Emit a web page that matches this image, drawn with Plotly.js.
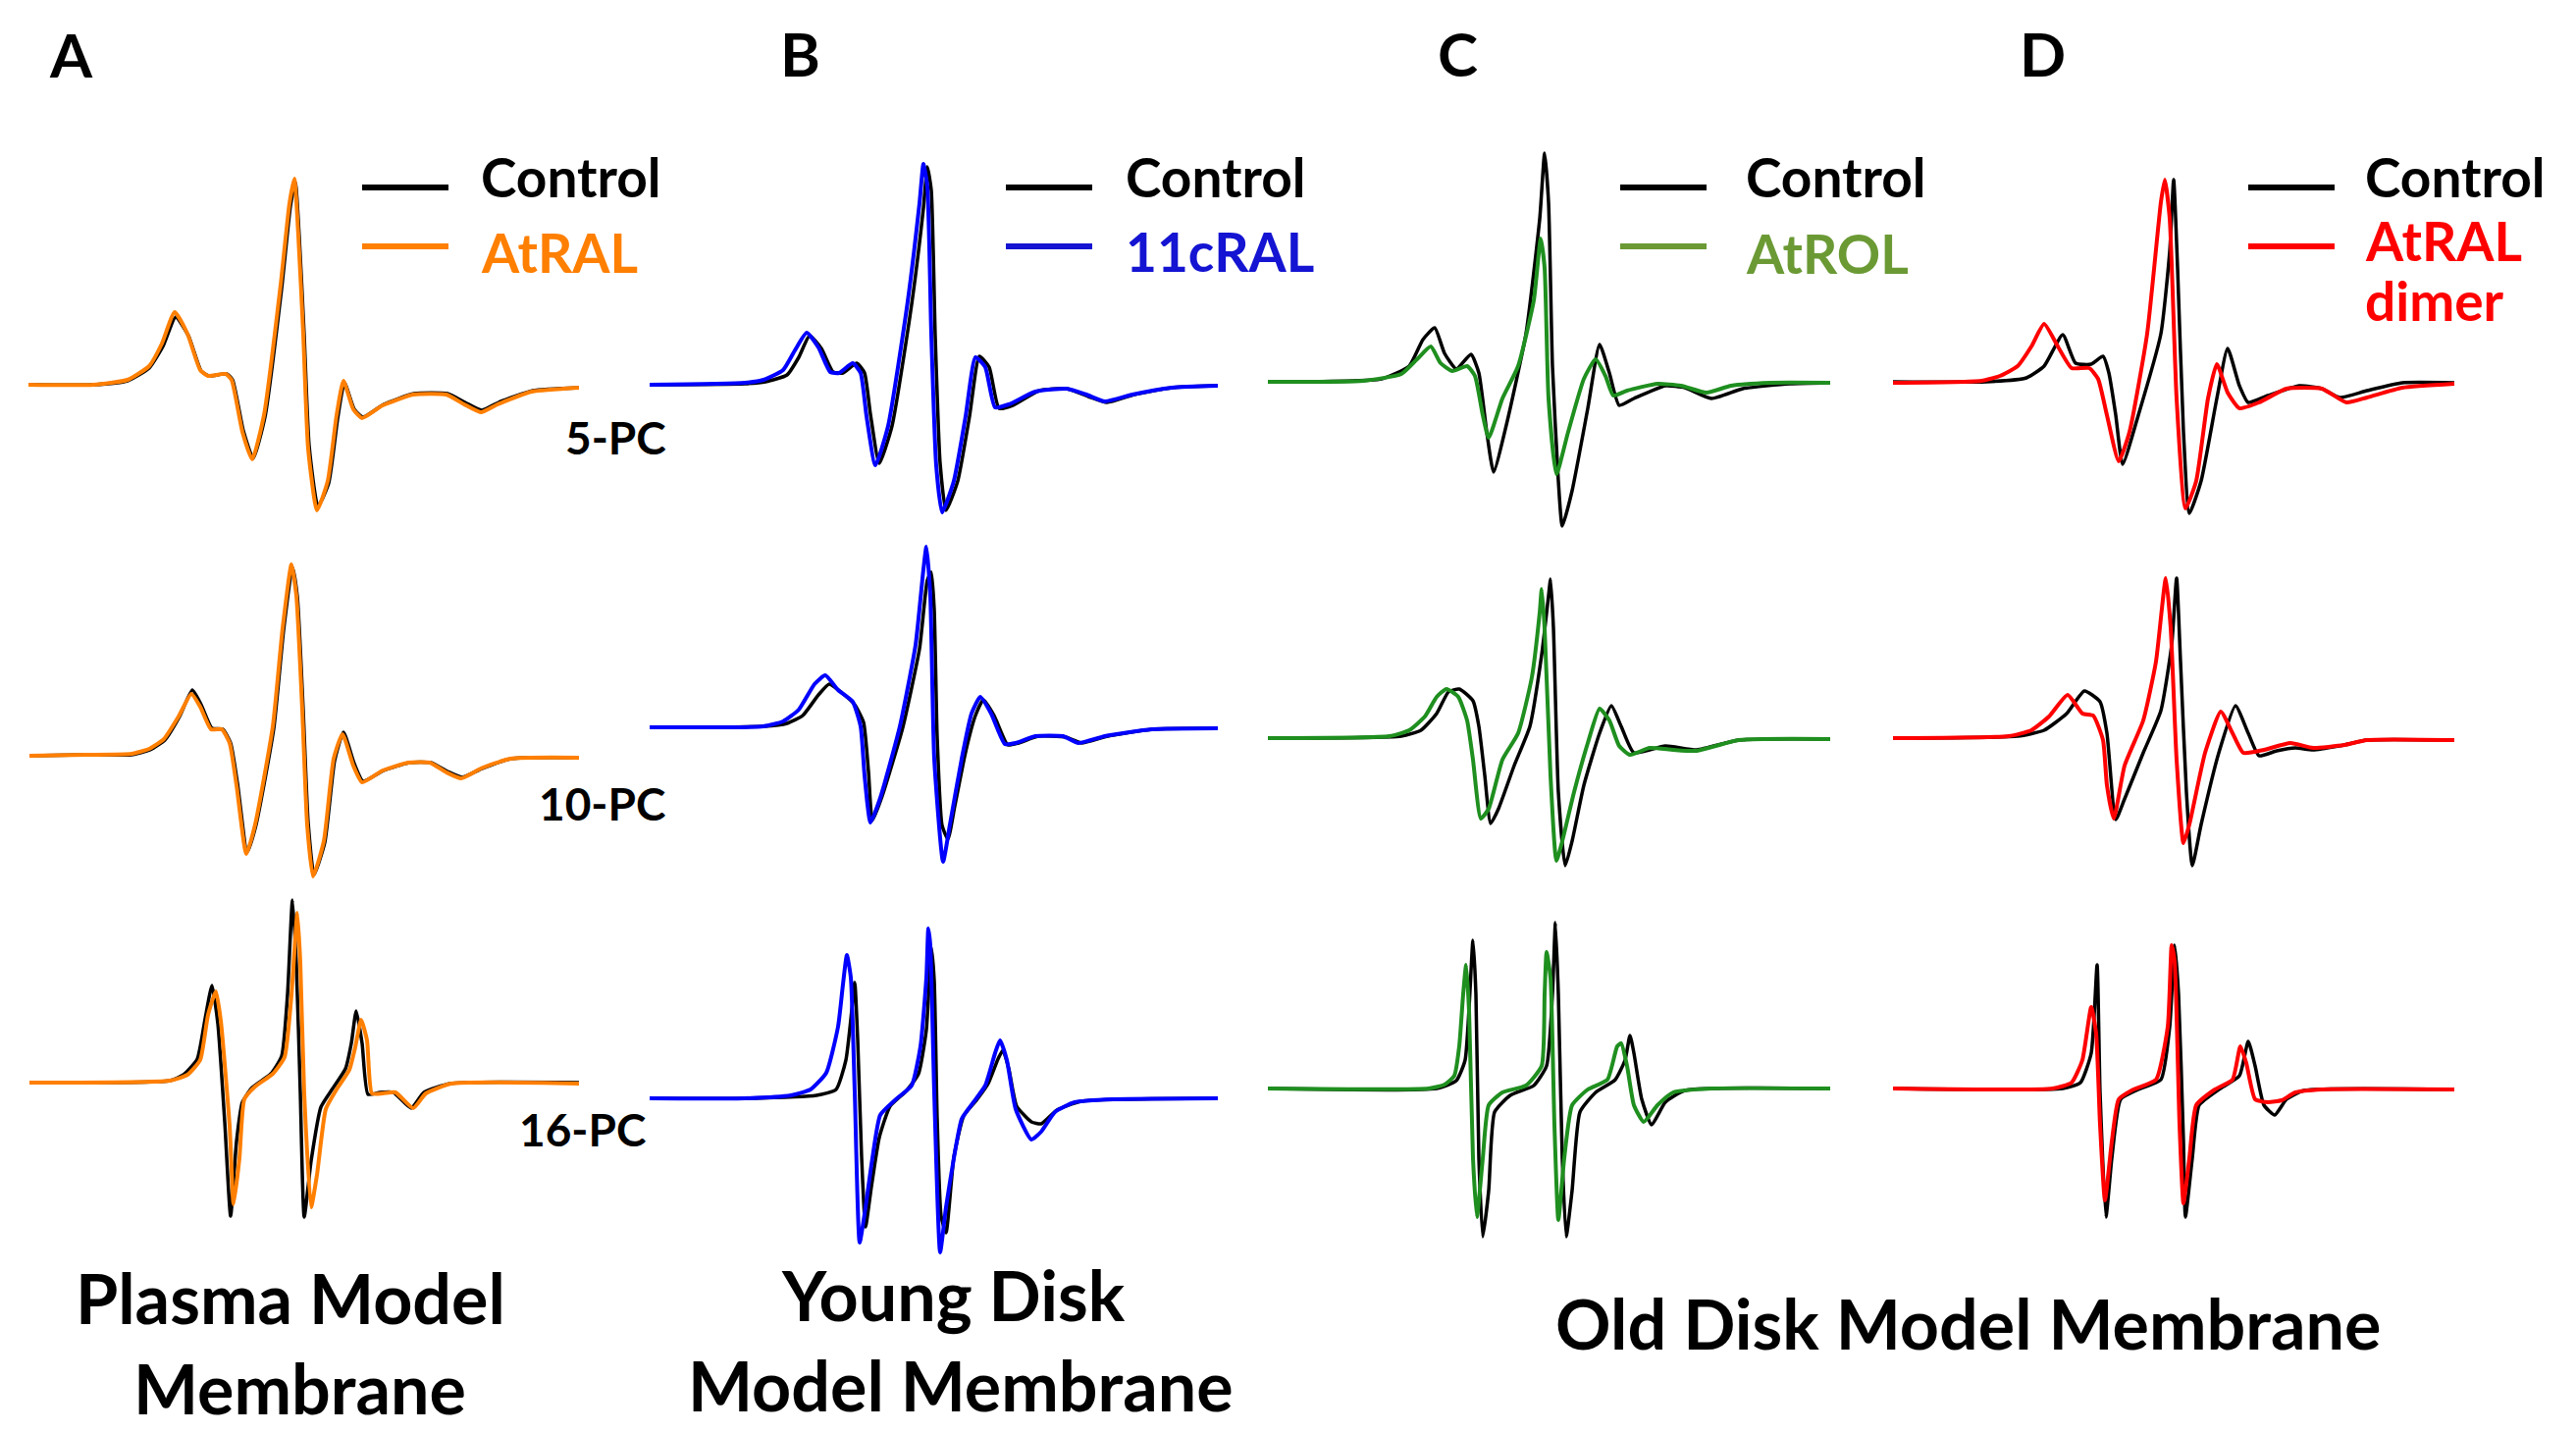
<!DOCTYPE html>
<html>
<head>
<meta charset="utf-8">
<script src="https://cdn.plot.ly/plotly-3.0.1.min.js"></script>
<style>
  html, body { margin: 0; padding: 0; background: #fff; }
  #chart { width: 2625px; height: 1460px; }
</style>
</head>
<body>
<div id="chart"></div>
<script>
// EPR spectra, field offset (a.u.) vs. first-derivative amplitude (a.u.)
// column A: Plasma model membrane, Control vs AtRAL
var a1CtrlX = [0,66,101,123,137,150,163,176,184,202,208,219,229,241,258,267,272,276,281,286,295,306,315,322,332,341,362,393,427,445,462,479,514,561];
var a1CtrlY = [0,0,4,17,39,69,50,14,9,11,5,-47,-75,-33,98,182,206,150,50,-62,-124,-100,-35,2,-25,-33,-20,-9,-9,-18,-26,-18,-6,-3];
var a1TrtX = [0,66,101,123,136,149,162,175,183,201,207,218,228,240,257,266,271,275,280,285,294,305,314,321,331,340,361,392,426,444,461,478,513,561];
var a1TrtY = [0,0,5,19,42,74,52,15,9,11,5,-48,-76,-31,102,185,210,152,52,-65,-128,-98,-31,4,-25,-34,-21,-10,-10,-20,-28,-20,-7,-3];

var a2CtrlX = [1,58,105,124,139,154,167,176,187,198,206,213,223,232,250,260,269,274,280,285,291,302,312,321,332,341,362,388,410,427,442,462,492,561];
var a2CtrlY = [0,1,1,6,16,40,67,52,28,27,13,-28,-98,-70,28,128,192,162,46,-68,-121,-88,-5,24,-8,-26,-15,-7,-7,-16,-22,-13,-3,-2];
var a2TrtX = [1,58,105,123,138,153,166,175,186,197,205,212,222,231,249,259,268,273,279,284,290,301,311,320,331,340,361,387,409,426,441,461,491,561];
var a2TrtY = [0,1,2,7,17,40,63,50,27,27,13,-30,-100,-70,30,130,195,163,47,-70,-123,-87,-3,22,-10,-27,-15,-7,-7,-17,-23,-13,-3,-2];

var a3CtrlX = [1,144,158,172,180,187,193,200,206,212,218,228,247,258,264,269,273,277,281,288,298,310,323,329,334,340,346,358,372,390,403,430,561];
var a3CtrlY = [0,2,8,24,65,99,60,-40,-136,-60,-20,-5,9,27,90,186,120,-10,-137,-80,-25,-6,14,40,73,40,-12,-10,-10,-26,-10,-1,0];
var a3TrtX = [1,144,162,175,183,191,196,205,209,215,220,231,249,261,268,274,277,281,288,294,303,314,327,333,339,345,350,361,374,392,405,431,561];
var a3TrtY = [0,2,8,23,69,93,63,-44,-124,-77,-17,-4,9,26,89,173,123,-11,-127,-94,-27,-7,13,36,64,43,-11,-11,-10,-26,-11,-1,-1];

// column B: Young disk model membrane, Control vs 11cRAL
var b1CtrlX = [0,97,118,140,152,163,175,187,197,211,219,225,234,247,267,279,283,287,291,296,302,314,326,336,346,356,370,397,425,447,466,494,532,579];
var b1CtrlY = [0,1,3,10,28,50,37,13,12,22,12,-30,-80,-42,82,180,222,198,50,-80,-128,-98,-32,29,18,-24,-21,-6,-4,-12,-18,-10,-3,-1];
var b1TrtX = [0,97,116,136,148,160,172,184,193,207,215,221,230,243,263,275,279,283,287,292,298,310,322,332,342,352,366,393,425,445,464,492,532,579];
var b1TrtY = [0,2,5,15,35,53,38,13,12,22,12,-32,-82,-42,85,185,225,202,52,-82,-130,-98,-32,28,18,-23,-20,-7,-4,-10,-17,-10,-3,-1];

var b2CtrlX = [0,116,140,156,172,183,196,209,218,223,227,237,258,275,283,287,290,293,298,304,311,322,332,340,351,365,376,396,424,440,467,512,579];
var b2CtrlY = [0,1,4,12,33,44,35,23,5,-45,-95,-70,0,80,150,158,120,-10,-100,-114,-80,-25,12,28,12,-18,-16,-9,-10,-16,-9,-2,-1];
var b2TrtX = [0,116,136,152,168,179,192,207,215,219,225,235,255,271,279,282,286,290,299,306,318,328,337,348,362,373,393,421,437,464,512,579];
var b2TrtY = [0,1,6,18,44,53,38,26,1,-49,-97,-72,1,84,161,184,134,-32,-137,-99,-32,14,31,14,-17,-16,-9,-9,-16,-9,-2,-1];

var b3CtrlX = [0,97,170,190,200,206,209,212,216,220,226,234,245,262,274,282,287,290,293,297,302,310,320,333,345,355,360,366,374,389,399,415,440,579];
var b3CtrlY = [0,0,3,9,39,90,118,60,-60,-131,-90,-40,-8,8,25,70,154,120,-20,-120,-137,-60,-18,-2,15,40,49,30,-8,-24,-26,-12,-3,0];
var b3TrtX = [0,97,144,164,180,192,197,201,205,209,214,220,227,235,251,267,276,282,284,286,290,296,302,310,318,330,342,352,357,364,373,389,399,413,433,472,579];
var b3TrtY = [0,0,3,9,26,73,116,146,123,6,-147,-111,-61,-17,-1,13,53,123,173,156,6,-157,-111,-61,-21,-4,13,46,59,39,-11,-42,-34,-14,-4,-1,0];

// column C: Old disk model membrane, Control vs AtROL
var c1CtrlX = [0,116,144,158,170,180,192,207,215,223,230,243,263,277,282,286,290,296,300,310,326,338,348,358,373,405,425,452,484,532,573];
var c1CtrlY = [0,3,16,43,55,29,13,28,9,-51,-92,-44,49,166,233,183,16,-101,-147,-111,-27,38,9,-24,-17,-4,-6,-17,-7,-2,-1];
var c1TrtX = [0,97,136,152,166,176,188,203,211,219,225,239,255,271,278,282,286,294,306,322,334,344,352,366,397,421,447,472,512,573];
var c1TrtY = [0,1,8,23,36,19,11,16,6,-34,-57,-17,16,83,146,116,-17,-94,-51,3,23,6,-14,-9,-2,-4,-11,-4,-1,-1];

var c2CtrlX = [0,136,156,172,184,195,209,215,221,227,235,251,267,279,286,288,291,296,303,310,322,338,350,360,373,405,437,480,573];
var c2CtrlY = [0,2,8,25,47,50,38,12,-38,-87,-72,-28,12,85,145,162,112,-55,-130,-105,-48,5,33,12,-15,-8,-12,-2,-1];
var c2TrtX = [0,124,144,160,172,182,194,203,209,217,225,239,255,269,277,279,282,288,294,300,312,326,338,348,358,369,389,413,437,480,573];
var c2TrtY = [0,2,8,22,42,50,42,18,-22,-82,-72,-22,5,62,128,152,112,-38,-125,-105,-55,-5,30,18,-8,-17,-10,-12,-13,-2,-1];

var c3CtrlX = [0,172,192,201,209,212,215,219,225,231,247,271,284,290,293,296,300,304,310,318,334,354,364,369,373,381,391,405,425,573];
var c3CtrlY = [0,0,8,29,151,96,-71,-151,-104,-24,-7,3,23,96,169,96,-71,-151,-104,-24,-4,9,29,54,36,-11,-37,-14,-2,0];
var c3TrtX = [0,164,180,190,195,199,202,205,209,213,219,225,239,263,279,282,284,288,292,296,302,310,326,346,356,360,366,373,383,397,413,452,573];
var c3TrtY = [0,0,4,13,43,96,126,79,-71,-131,-71,-17,-4,3,23,96,139,113,-37,-134,-71,-17,-1,9,43,46,23,-17,-34,-17,-4,0,0];

// column D: Old disk model membrane, Control vs AtRAL dimer
var d1CtrlX = [0,95,136,154,173,186,202,214,220,227,234,250,273,282,286,290,296,302,314,330,341,353,362,382,414,437,455,483,519,572];
var d1CtrlY = [0,0,4,16,48,19,18,26,9,-34,-84,-34,49,133,206,116,-51,-134,-101,-17,34,-4,-21,-14,-4,-7,-16,-9,-1,-1];
var d1TrtX = [0,90,109,127,141,154,168,182,200,209,218,230,241,259,273,277,282,289,298,309,321,330,341,353,373,401,437,462,483,519,572];
var d1TrtY = [-1,1,6,16,36,59,36,14,14,3,-34,-81,-51,49,183,206,166,-17,-129,-101,-17,18,-11,-27,-21,-7,-7,-21,-16,-6,-2];

var d2CtrlX = [0,127,154,177,195,211,218,227,236,255,273,284,289,293,299,305,314,332,349,362,373,391,410,428,460,483,572];
var d2CtrlY = [0,2,8,25,48,37,5,-83,-62,-15,28,95,163,78,-55,-130,-88,-15,33,5,-18,-13,-10,-12,-7,-2,-2];
var d2TrtX = [0,118,141,159,178,193,204,214,218,225,236,255,268,278,283,289,296,302,318,334,346,357,378,405,428,460,483,572];
var d2TrtY = [0,2,8,22,44,25,23,-2,-48,-82,-28,18,78,163,112,-22,-107,-88,-15,27,5,-15,-12,-5,-10,-7,-2,-2];

var d3CtrlX = [0,173,191,202,208,211,217,223,232,250,273,282,287,291,296,298,305,312,332,353,362,369,378,389,401,419,572];
var d3CtrlY = [0,0,6,36,126,-4,-131,-71,-11,-1,9,63,146,96,-54,-131,-71,-17,-1,13,48,23,-17,-27,-11,-2,-1];
var d3TrtX = [0,163,182,193,202,207,211,216,223,230,245,268,280,284,287,292,296,302,309,328,346,354,360,369,382,396,410,437,572];
var d3TrtY = [0,0,6,29,83,56,-37,-114,-54,-11,-1,9,63,146,129,-37,-117,-71,-17,-1,9,43,26,-11,-14,-12,-4,-1,-1];

var treatNames = ["AtRAL", "11cRAL", "AtROL", "AtRAL dimer"];
var probeNames = ["5-PC", "10-PC", "16-PC"];

// layout in page pixels
var W = 2625, H = 1460;
var colLeft = [29, 662, 1292, 1929];
var panelBase = [[392, 770, 1103], [392, 741, 1119], [389, 752, 1109], [389, 752, 1109]];
var boxW = 620, boxH = 260;
var traceColor = ["#ff7f00", "#0000ff", "#1f8f1f", "#ff0000"];
var legendColor = ["#ff7f00", "#1414d2", "#6b9a35", "#ff0000"];
var FONT = "Lato, 'Open Sans', sans-serif";

var panels = [
  [[a1CtrlX, a1CtrlY, a1TrtX, a1TrtY], [a2CtrlX, a2CtrlY, a2TrtX, a2TrtY], [a3CtrlX, a3CtrlY, a3TrtX, a3TrtY]],
  [[b1CtrlX, b1CtrlY, b1TrtX, b1TrtY], [b2CtrlX, b2CtrlY, b2TrtX, b2TrtY], [b3CtrlX, b3CtrlY, b3TrtX, b3TrtY]],
  [[c1CtrlX, c1CtrlY, c1TrtX, c1TrtY], [c2CtrlX, c2CtrlY, c2TrtX, c2TrtY], [c3CtrlX, c3CtrlY, c3TrtX, c3TrtY]],
  [[d1CtrlX, d1CtrlY, d1TrtX, d1TrtY], [d2CtrlX, d2CtrlY, d2TrtX, d2TrtY], [d3CtrlX, d3CtrlY, d3TrtX, d3TrtY]]
];

function px(x) { return x / W; }
function py(y) { return 1 - y / H; }

var traces = [];
var layout = {
  width: W, height: H,
  margin: { l: 0, r: 0, t: 0, b: 0 },
  paper_bgcolor: "#fff", plot_bgcolor: "rgba(0,0,0,0)",
  showlegend: false,
  hovermode: false,
  annotations: [],
  shapes: []
};

var n = 0;
for (var c = 0; c < 4; c++) {
  for (var r = 0; r < 3; r++) {
    n++;
    var xa = n == 1 ? "x" : "x" + n;
    var ya = n == 1 ? "y" : "y" + n;
    var d = panels[c][r];
    traces.push({
      x: d[0], y: d[1], xaxis: xa, yaxis: ya,
      mode: "lines", name: "Control",
      line: { color: "#000", width: 3.5, shape: "spline", smoothing: 0.5 }
    });
    traces.push({
      x: d[2], y: d[3], xaxis: xa, yaxis: ya,
      mode: "lines", name: treatNames[c] + " " + probeNames[r],
      line: { color: traceColor[c], width: 4, shape: "spline", smoothing: 0.5 }
    });
    var base = panelBase[c][r];
    layout[n == 1 ? "xaxis" : "xaxis" + n] = {
      domain: [px(colLeft[c]), px(colLeft[c] + boxW)],
      range: [0, boxW], visible: false, fixedrange: true, anchor: ya
    };
    layout[n == 1 ? "yaxis" : "yaxis" + n] = {
      domain: [py(base + boxH), py(base - boxH)],
      range: [-boxH, boxH], visible: false, fixedrange: true, anchor: xa
    };
  }
}

function txt(s, x, y, size, color, anchor) {
  layout.annotations.push({
    text: "<b>" + s + "</b>", x: px(x), y: py(y),
    xref: "paper", yref: "paper",
    xanchor: anchor || "left", yanchor: "middle",
    showarrow: false,
    font: { family: FONT, size: size, color: color }
  });
}
function legLine(x0, x1, y, color) {
  layout.shapes.push({
    type: "line", xref: "paper", yref: "paper",
    x0: px(x0), x1: px(x1), y0: py(y), y1: py(y),
    line: { color: color, width: 6 }
  });
}

// panel letters
txt("A", 72, 55, 62, "#000", "center");
txt("B", 815, 54, 62, "#000", "center");
txt("C", 1485, 54, 62, "#000", "center");
txt("D", 2081, 54, 62, "#000", "center");

// legends
var legLeft = [369, 1025, 1651, 2291];
var legText = [488, 1145, 1777, 2408];
for (var k = 0; k < 4; k++) {
  legLine(legLeft[k], legLeft[k] + 88, 191, "#000");
  legLine(legLeft[k], legLeft[k] + 88, 251, legendColor[k]);
  txt("Control", legText[k], 180, 55, "#000");
}
txt(treatNames[0], legText[0], 257, 55, legendColor[0]);
txt(treatNames[1], legText[1], 256, 55, legendColor[1]);
txt(treatNames[2], legText[2], 258, 55, legendColor[2]);
txt("AtRAL", legText[3], 245, 55, legendColor[3]);
txt("dimer", legText[3], 306, 55, legendColor[3]);

// probe labels
txt(probeNames[0], 681, 445, 46, "#000", "right");
txt(probeNames[1], 680, 818, 46, "#000", "right");
txt(probeNames[2], 660, 1150, 46, "#000", "right");

// membrane titles
txt("Plasma Model", 296, 1322, 70, "#000", "center");
txt("Membrane", 305, 1414, 70, "#000", "center");
txt("Young Disk", 971, 1319, 70, "#000", "center");
txt("Model Membrane", 979, 1411, 70, "#000", "center");
txt("Old Disk Model Membrane", 2005, 1348, 70, "#000", "center");

Plotly.newPlot("chart", traces, layout, { displayModeBar: false, staticPlot: true });
</script>
</body>
</html>
